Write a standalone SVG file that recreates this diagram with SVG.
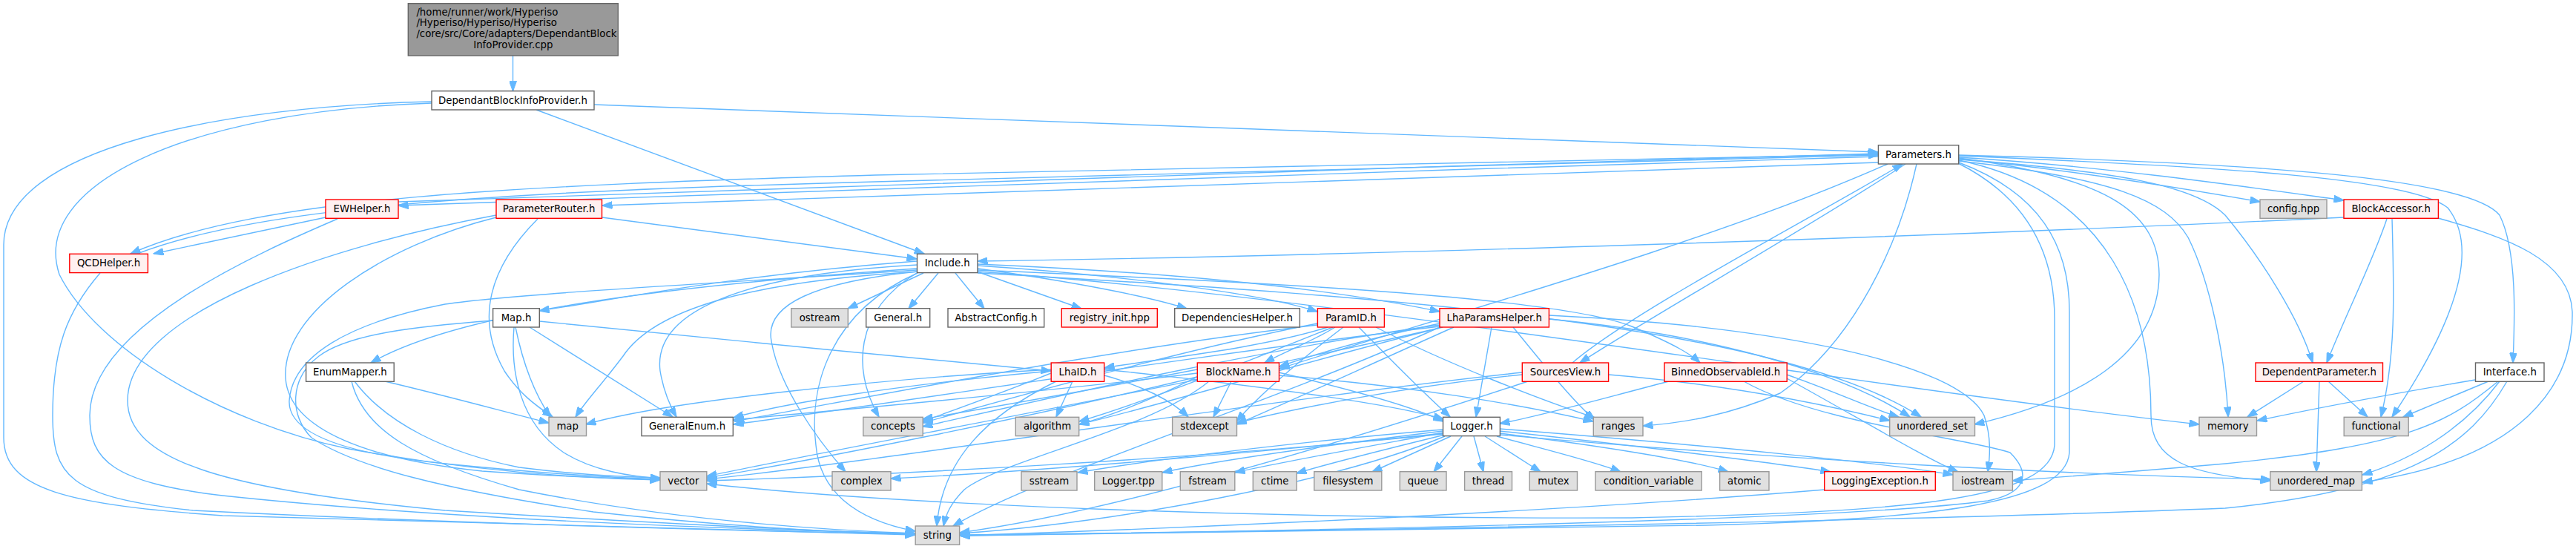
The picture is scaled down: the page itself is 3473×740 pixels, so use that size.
<svg xmlns="http://www.w3.org/2000/svg" width="3473" height="740" viewBox="0 0 3473 740">
<style>
text{font-family:"DejaVu Sans","Liberation Sans",sans-serif;font-size:13.3px;fill:#000;text-anchor:middle}
.w rect{fill:#fff;stroke:#666;stroke-width:1.4}
.g rect{fill:#e0e0e0;stroke:#999;stroke-width:1.4}
.r rect{fill:#fff0f0;stroke:#f00;stroke-width:1.4}
.t rect{fill:#999;stroke:#666;stroke-width:1.4}
#edges path{fill:none;stroke:#63b8ff;stroke-width:1.4;marker-end:url(#a)}
</style>
<defs>
<marker id="a" markerWidth="14" markerHeight="10" refX="13.5" refY="5" orient="auto" markerUnits="userSpaceOnUse"><path d="M0,0L14,5L0,10z" fill="#63b8ff" stroke="#63b8ff" stroke-width="1"/></marker>
</defs>
<rect width="3473" height="740" fill="#fff"/>
<g id="edges">
<path d="M691.5,75 L691.5,122.7"/>
<path d="M801,141 L2532,205"/>
<path d="M723,148 L1246,342"/>
<path d="M582,137 C300,143 5,200 5,330 L5,590 C5,660 90,680 300,695 C700,708 1000,716 1234,721"/>
<path d="M582,139 C250,150 40,250 80,370 C130,470 300,570 470,605 C650,638 800,645 890,647"/>
<path d="M135,368 C90,420 71,470 71,560 C71,640 90,670 260,688 C600,705 1000,716 1234,720"/>
<path d="M185,342 C360,275 700,258 1180,245 L2532,209"/>
<path d="M2532,208 L1180,236 C700,250 350,265 176,342"/>
<path d="M439,293 L207,342"/>
<path d="M455,295 C350,340 121,440 121,560 C121,620 150,650 300,668 C600,700 1000,714 1234,719"/>
<path d="M537,272 C900,262 1800,226 2532,207"/>
<path d="M2532,211 C1800,232 900,266 537,277"/>
<path d="M2532,219 C1800,240 1200,262 812,277"/>
<path d="M811.5,293 L1236,349"/>
<path d="M725,295 C660,360 640,430 680,500 C700,530 720,545 745,562"/>
<path d="M669,290 C450,330 172,420 172,540 C172,620 300,660 600,688 C900,706 1100,716 1234,720"/>
<path d="M669,293 C520,330 379,420 385,510 C390,580 500,620 650,635 C750,642 830,645 890,646"/>
<path d="M1236,362 C900,385 620,420 500,489"/>
<path d="M519,514 C600,533 680,555 740,570"/>
<path d="M478,514 C520,570 600,610 700,630 C780,640 840,643 890,644"/>
<path d="M474,514 C490,580 560,620 700,660 C900,700 1100,714 1234,719"/>
<path d="M1236,352 C1000,370 850,400 727,419"/>
<path d="M695,441 C705,490 720,530 742,562"/>
<path d="M714,441 L907,562"/>
<path d="M693,441 C688,500 700,570 760,610 C800,635 850,642 890,645"/>
<path d="M727,433 C900,450 1200,480 1417,500"/>
<path d="M665,432 C560,440 470,450 430,480 C390,510 390,560 420,590 C480,630 600,660 800,690 C1000,712 1150,718 1234,720"/>
<path d="M1236,364 C1000,380 700,395 600,410 C470,435 394,480 390,540 C388,580 450,610 600,625 C750,640 830,644 890,646"/>
<path d="M1240,366 C1000,380 880,420 840,480 C810,520 790,540 776,562"/>
<path d="M1237,357 C1000,370 880,420 890,500 C895,530 905,550 912,562"/>
<path d="M1237,368 C1120,420 1090,520 1100,600 C1105,660 1150,700 1234,716"/>
<path d="M1245,368 L1143,416"/>
<path d="M1265,368 L1225,416"/>
<path d="M1288,368 L1327,416"/>
<path d="M1317,366 L1458,416"/>
<path d="M1318,362 C1450,380 1550,400 1600,416"/>
<path d="M1237,366 C1100,380 1030,410 1040,460 C1050,520 1100,590 1140,636"/>
<path d="M1236,368 C1150,420 1150,500 1185,562"/>
<path d="M1318,358 C1500,370 1700,395 1776,420"/>
<path d="M1318,356 C1600,368 1800,390 1941,420"/>
<path d="M1318,364 C1700,380 2100,400 2200,440 C2260,465 2280,478 2292,489"/>
<path d="M1318,366 C1800,400 2500,520 2965,572"/>
<path d="M1318,368 C1900,400 2400,440 2590,562"/>
<path d="M1832,441 C1870,480 1920,530 1955,562"/>
<path d="M1855,441 C1950,490 2080,540 2150,563"/>
<path d="M1790,441 C1700,470 1550,485 1489,496"/>
<path d="M1800,441 C1770,460 1730,475 1705,489"/>
<path d="M1797,441 C1700,480 1550,540 1455,568"/>
<path d="M1811,441 C1760,480 1700,530 1667,568"/>
<path d="M1776,436 C1600,470 1350,540 1244,570"/>
<path d="M1776,438 C1500,470 1200,530 990,568"/>
<path d="M2011,441 L1990,562"/>
<path d="M1941,436 C1850,455 1780,475 1725,494"/>
<path d="M1941,438 C1700,470 1400,540 1244,575"/>
<path d="M1945,441 C1750,490 1550,550 1455,572"/>
<path d="M1960,441 C1850,490 1720,550 1667,572"/>
<path d="M1941,440 C1600,480 1200,545 989,572"/>
<path d="M2088,430 C2300,450 2480,500 2575,562"/>
<path d="M2088,425 C2400,440 2640,490 2675,560 C2685,590 2683,615 2680,636"/>
<path d="M2040,441 C2080,490 2120,540 2150,566"/>
<path d="M1941,441 C1700,550 1400,640 1285,709"/>
<path d="M1941,442 C1600,520 1150,600 953,642"/>
<path d="M1620,505 C1550,540 1500,560 1455,572"/>
<path d="M1660,514 L1636,562"/>
<path d="M1630,514 C1550,580 1350,620 1300,660 C1280,680 1275,695 1272,709"/>
<path d="M1614,498 C1450,530 1300,555 1244,565"/>
<path d="M1724,502 C1800,520 1900,545 1946,568"/>
<path d="M1724,506 C1900,520 2050,545 2148,568"/>
<path d="M1614,503 C1400,530 1100,555 989,566"/>
<path d="M1614,508 C1400,560 1100,620 953,644"/>
<path d="M1446,514 L1424,562"/>
<path d="M1489,506 C1540,520 1580,540 1602,562"/>
<path d="M1424,514 C1330,560 1270,620 1263,709"/>
<path d="M1417,503 C1350,530 1280,555 1244,568"/>
<path d="M1417,498 C1200,510 900,540 790,572"/>
<path d="M1417,500 C1200,520 1050,545 989,563"/>
<path d="M1489,498 C1700,520 1880,545 1946,565"/>
<path d="M2120,489 C2200,420 2450,290 2565,221"/>
<path d="M2569,221 C2450,300 2220,430 2130,489"/>
<path d="M2052,505 C1900,520 1750,550 1667,570"/>
<path d="M2052,502 C1700,540 1200,620 953,646"/>
<path d="M2060,514 C1800,600 1500,690 1294,718"/>
<path d="M2169,505 C2350,520 2480,550 2548,567"/>
<path d="M2250,514 C2150,540 2080,560 2022,571"/>
<path d="M2351,514 C2450,570 2650,590 2710,610 C2740,640 2730,665 2680,675 C2500,700 1800,716 1294,721"/>
<path d="M2409,505 C2480,530 2520,550 2560,562"/>
<path d="M2409,510 C2500,560 2600,620 2640,636"/>
<path d="M1945,579 C1700,600 1520,625 1453,637"/>
<path d="M1945,581 C1750,605 1620,625 1567,637"/>
<path d="M1946,583 C1800,610 1700,628 1665,637"/>
<path d="M1948,586 C1850,610 1780,628 1748,638"/>
<path d="M1956,588 L1850,636"/>
<path d="M1971,588 L1933,636"/>
<path d="M1987,588 L2000,636"/>
<path d="M2002,588 L2077,636"/>
<path d="M2018,588 C2080,605 2150,622 2185,636"/>
<path d="M2022,584 C2150,600 2280,620 2330,636"/>
<path d="M2022,581 C2200,600 2400,625 2468,636"/>
<path d="M2022,578 C2300,600 2550,625 2633,640"/>
<path d="M1948,588 C1800,650 1500,705 1294,719"/>
<path d="M1945,585 C1600,620 1200,640 953,648"/>
<path d="M1946,584 C1700,610 1400,635 1201,645"/>
<path d="M2022,586 C2400,620 2800,640 3061,646"/>
<path d="M2460,660 C2100,690 1600,712 1294,722"/>
<path d="M2641,214 C2800,230 2950,255 3047,272"/>
<path d="M2641,212 C2850,225 3050,255 3160,270"/>
<path d="M2641,215 C2850,230 2960,250 3000,290 C3050,350 3100,430 3118,489"/>
<path d="M2641,210 C3000,225 3250,240 3300,280 C3340,330 3320,420 3225,562"/>
<path d="M2641,209 C3050,220 3330,240 3370,290 C3395,340 3390,440 3388,489"/>
<path d="M2641,213 C2850,240 2910,290 2911,370 C2910,480 2800,540 2662,572"/>
<path d="M2641,217 C2850,240 2920,270 2950,320 C2980,380 3000,480 3004,562"/>
<path d="M2584,221 C2560,330 2500,460 2400,530 C2330,560 2270,570 2215,574"/>
<path d="M2545,221 C2300,330 1900,440 1725,497"/>
<path d="M2641,219 C2750,260 2790,330 2790,420 L2790,610 C2785,680 2600,700 2300,708 C1900,716 1500,720 1294,722"/>
<path d="M2640,220 C2740,270 2770,350 2770,430 L2770,600 C2765,670 2600,690 2200,698 C1700,700 1200,680 953,652"/>
<path d="M2641,216 C2850,260 2900,420 2900,560 C2900,620 2950,640 3061,648"/>
<path d="M3106,514 L3030,562"/>
<path d="M3139,514 L3192,562"/>
<path d="M3127,514 L3123,636"/>
<path d="M3337,512 C3200,535 3100,555 3043,567"/>
<path d="M3355,514 L3240,562"/>
<path d="M3370,514 C3320,580 3250,620 3185,640"/>
<path d="M3368,514 C3300,570 3250,600 3000,625 C2850,638 2750,645 2713,648"/>
<path d="M3380,514 C3330,600 3250,660 3000,685 C2500,705 1700,716 1294,722"/>
<path d="M3218,295 C3200,350 3160,430 3137,489"/>
<path d="M3225,295 C3228,400 3230,480 3210,562"/>
<path d="M3287,294 C3380,320 3465,350 3468,420 C3470,520 3400,620 3185,650"/>
<path d="M3160,293 C2600,320 1800,345 1318,352"/>
</g>
<g id="node-cpp" class="t"><rect x="550.3" y="4.7" width="283" height="70.3"/>
<text x="561.4" y="20.6" style="text-anchor:start">/home/runner/work/Hyperiso</text>
<text x="561.4" y="35.3" style="text-anchor:start">/Hyperiso/Hyperiso/Hyperiso</text>
<text x="561.4" y="50" style="text-anchor:start">/core/src/Core/adapters/DependantBlock</text>
<text x="691.8" y="64.7">InfoProvider.cpp</text></g>
<g id="node-dbip" class="w"><rect x="582" y="122.7" width="219" height="25.3"/><text x="691.5" y="139.8">DependantBlockInfoProvider.h</text></g>
<g id="node-params" class="w"><rect x="2532.4" y="195.7" width="108.3" height="25.3"/><text x="2586.5" y="212.8">Parameters.h</text></g>
<g id="node-ew" class="r"><rect x="439" y="269" width="98" height="25.3"/><text x="488" y="286.1">EWHelper.h</text></g>
<g id="node-pr" class="r"><rect x="669" y="269" width="142.5" height="25.3"/><text x="740.2" y="286.1">ParameterRouter.h</text></g>
<g id="node-cfg" class="g"><rect x="3047" y="269" width="90" height="25.3"/><text x="3092" y="286.1">config.hpp</text></g>
<g id="node-ba" class="r"><rect x="3160" y="269" width="127.4" height="25.3"/><text x="3223.7" y="286.1">BlockAccessor.h</text></g>
<g id="node-qcd" class="r"><rect x="93.8" y="342.3" width="105.6" height="25.3"/><text x="146.6" y="359.4">QCDHelper.h</text></g>
<g id="node-include" class="w"><rect x="1236.5" y="342.3" width="81.5" height="25.3"/><text x="1277.2" y="359.4">Include.h</text></g>
<g id="node-map-h" class="w"><rect x="664.6" y="415.7" width="62.7" height="25.3"/><text x="696" y="432.8">Map.h</text></g>
<g id="node-ostream" class="g"><rect x="1066.8" y="415.7" width="76.5" height="25.3"/><text x="1105" y="432.8">ostream</text></g>
<g id="node-general" class="w"><rect x="1167.7" y="415.7" width="86" height="25.3"/><text x="1210.7" y="432.8">General.h</text></g>
<g id="node-abscfg" class="w"><rect x="1278" y="415.7" width="129.7" height="25.3"/><text x="1342.8" y="432.8">AbstractConfig.h</text></g>
<g id="node-registry" class="r"><rect x="1431.3" y="415.7" width="129" height="25.3"/><text x="1495.8" y="432.8">registry_init.hpp</text></g>
<g id="node-dephelp" class="w"><rect x="1583.7" y="415.7" width="168.7" height="25.3"/><text x="1668" y="432.8">DependenciesHelper.h</text></g>
<g id="node-paramid" class="r"><rect x="1776.4" y="415.7" width="90" height="25.3"/><text x="1821.4" y="432.8">ParamID.h</text></g>
<g id="node-lhaph" class="r"><rect x="1941" y="415.7" width="147.4" height="25.3"/><text x="2014.7" y="432.8">LhaParamsHelper.h</text></g>
<g id="node-enummapper" class="w"><rect x="412.6" y="489" width="118.6" height="25.3"/><text x="471.9" y="506.1">EnumMapper.h</text></g>
<g id="node-lhaid" class="r"><rect x="1417.2" y="489" width="71.5" height="25.3"/><text x="1453" y="506.1">LhaID.h</text></g>
<g id="node-blockname" class="r"><rect x="1614.3" y="489" width="110.2" height="25.3"/><text x="1669.4" y="506.1">BlockName.h</text></g>
<g id="node-sourcesview" class="r"><rect x="2052.3" y="489" width="116.3" height="25.3"/><text x="2110.5" y="506.1">SourcesView.h</text></g>
<g id="node-binned" class="r"><rect x="2244" y="489" width="165.2" height="25.3"/><text x="2326.6" y="506.1">BinnedObservableId.h</text></g>
<g id="node-depparam" class="r"><rect x="3041" y="489" width="171.5" height="25.3"/><text x="3126.8" y="506.1">DependentParameter.h</text></g>
<g id="node-interface" class="w"><rect x="3337.5" y="489" width="92.5" height="25.3"/><text x="3383.8" y="506.1">Interface.h</text></g>
<g id="node-map" class="g"><rect x="740" y="562.3" width="50.5" height="25.3"/><text x="765.2" y="579.4">map</text></g>
<g id="node-generalenum" class="w"><rect x="865" y="562.3" width="123.3" height="25.3"/><text x="926.6" y="579.4">GeneralEnum.h</text></g>
<g id="node-concepts" class="g"><rect x="1163.8" y="562.3" width="80.4" height="25.3"/><text x="1204" y="579.4">concepts</text></g>
<g id="node-algorithm" class="g"><rect x="1369.3" y="562.3" width="85.4" height="25.3"/><text x="1412" y="579.4">algorithm</text></g>
<g id="node-stdexcept" class="g"><rect x="1580.6" y="562.3" width="86.9" height="25.3"/><text x="1624" y="579.4">stdexcept</text></g>
<g id="node-logger" class="w"><rect x="1945.5" y="562.3" width="76.9" height="25.3"/><text x="1984" y="579.4">Logger.h</text></g>
<g id="node-ranges" class="g"><rect x="2148.3" y="562.3" width="66.7" height="25.3"/><text x="2181.6" y="579.4">ranges</text></g>
<g id="node-uset" class="g"><rect x="2547.7" y="562.3" width="114.8" height="25.3"/><text x="2605.1" y="579.4">unordered_set</text></g>
<g id="node-memory" class="g"><rect x="2965" y="562.3" width="77.5" height="25.3"/><text x="3003.8" y="579.4">memory</text></g>
<g id="node-functional" class="g"><rect x="3160.2" y="562.3" width="87" height="25.3"/><text x="3203.7" y="579.4">functional</text></g>
<g id="node-vector" class="g"><rect x="890" y="635.7" width="62.8" height="25.3"/><text x="921.4" y="652.8">vector</text></g>
<g id="node-complex" class="g"><rect x="1122" y="635.7" width="79" height="25.3"/><text x="1161.5" y="652.8">complex</text></g>
<g id="node-sstream" class="g"><rect x="1377" y="635.7" width="75" height="25.3"/><text x="1414.5" y="652.8">sstream</text></g>
<g id="node-loggertpp" class="g"><rect x="1475.7" y="635.7" width="91.1" height="25.3"/><text x="1521.3" y="652.8">Logger.tpp</text></g>
<g id="node-fstream" class="g"><rect x="1591.3" y="635.7" width="73.5" height="25.3"/><text x="1628" y="652.8">fstream</text></g>
<g id="node-ctime" class="g"><rect x="1689.3" y="635.7" width="58.9" height="25.3"/><text x="1718.8" y="652.8">ctime</text></g>
<g id="node-filesystem" class="g"><rect x="1771.8" y="635.7" width="91" height="25.3"/><text x="1817.3" y="652.8">filesystem</text></g>
<g id="node-queue" class="g"><rect x="1887.3" y="635.7" width="62.7" height="25.3"/><text x="1918.7" y="652.8">queue</text></g>
<g id="node-thread" class="g"><rect x="1974.6" y="635.7" width="63.9" height="25.3"/><text x="2006.5" y="652.8">thread</text></g>
<g id="node-mutex" class="g"><rect x="2062.2" y="635.7" width="64.3" height="25.3"/><text x="2094.4" y="652.8">mutex</text></g>
<g id="node-condvar" class="g"><rect x="2151" y="635.7" width="143.2" height="25.3"/><text x="2222.6" y="652.8">condition_variable</text></g>
<g id="node-atomic" class="g"><rect x="2318.6" y="635.7" width="66.4" height="25.3"/><text x="2351.8" y="652.8">atomic</text></g>
<g id="node-logexc" class="r"><rect x="2459.7" y="635.7" width="149.6" height="25.3"/><text x="2534.5" y="652.8">LoggingException.h</text></g>
<g id="node-iostream" class="g"><rect x="2633" y="635.7" width="80.4" height="25.3"/><text x="2673.2" y="652.8">iostream</text></g>
<g id="node-umap" class="g"><rect x="3060.8" y="635.7" width="123.6" height="25.3"/><text x="3122.6" y="652.8">unordered_map</text></g>
<g id="node-string" class="g"><rect x="1234.2" y="709" width="59.4" height="25.3"/><text x="1263.9" y="726.1">string</text></g>
</svg>
